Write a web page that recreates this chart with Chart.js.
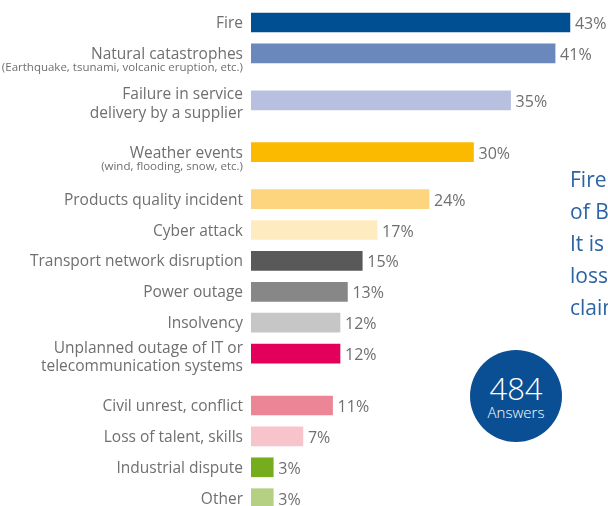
<!DOCTYPE html>
<html>
<head>
<meta charset="utf-8">
<script src="https://cdn.jsdelivr.net/npm/chart.js@4/dist/chart.umd.min.js"></script>
<style>
	html, body { margin: 0; padding: 0; background: #fff; overflow: hidden; }
	#wrap { position: relative; width: 608px; height: 506px; overflow: hidden; font-family: "Open Sans", sans-serif; }
	#riskChart { position: absolute; left: 0; top: 0; }
	.note { position: absolute; left: 570px; top: 163px; color: #2c63a5; font-size: 21px; line-height: 32px; white-space: nowrap; }
	.badge { position: absolute; left: 470px; top: 350px; width: 92px; height: 92px; border-radius: 50%; background: #0a4f93; color: #fff; text-align: center; }
	.badge .num { display: block; font-size: 31px; font-weight: 300; line-height: 30px; margin-top: 23px; }
	.badge .lbl { display: block; font-size: 15px; font-weight: 300; line-height: 18px; }
</style>
</head>
<body>
<div id="wrap">
	<canvas id="riskChart" width="608" height="506"></canvas>
	<div class="note">Fire is the main cause<br>of BI losses.<br>It is behind<br>losses and<br>claims.</div>
	<div class="badge"><span class="num">484</span><span class="lbl">Answers</span></div>
</div>
<script>
const categories = [
	['Fire'],
	['Natural catastrophes'],
	['Failure in service', 'delivery by a supplier'],
	['Weather events'],
	['Products quality incident'],
	['Cyber attack'],
	['Transport network disruption'],
	['Power outage'],
	['Insolvency'],
	['Unplanned outage of IT or', 'telecommunication systems'],
	['Civil unrest, conflict'],
	['Loss of talent, skills'],
	['Industrial dispute'],
	['Other']
];
const subLabels = ['', '(Earthquake, tsunami, volcanic eruption, etc.)', '', '(wind, flooding, snow, etc.)', '', '', '', '', '', '', '', '', '', ''];
const shares = [43, 41, 35, 30, 24, 17, 15, 13, 12, 12, 11, 7, 3, 3];
const barColors = ['#004f93', '#6a88bb', '#b7c1df', '#fbba00', '#fdd57f', '#feebc0', '#595959',
	'#878787', '#c6c6c6', '#e2005a', '#ec8596', '#f6c4ca', '#76ad1c', '#b5cf83'];

document.addEventListener('DOMContentLoaded', () => {
	// rows get extra room when the label wraps or carries a note underneath
	const ROW_GAP = 30.9, SUB_EXTRA = 16, LINE_EXTRA = 21;
	let acc = 0;
	const rows = categories.map((lines, i) => {
		const at = acc;
		acc += ROW_GAP + (subLabels[i] ? SUB_EXTRA : 0) + (lines.length > 1 ? LINE_EXTRA : 0);
		return at;
	});

	const textColor = '#6f6f6f';
	const labelsPlugin = {
		id: 'rowLabels',
		afterDatasetsDraw(chart) {
			const {ctx, scales: {y}} = chart;
			const meta = chart.getDatasetMeta(0);
			ctx.save();
			ctx.fillStyle = textColor;
			ctx.textBaseline = 'alphabetic';
			rows.forEach((r, i) => {
				const cy = y.getPixelForValue(r);
				const lines = categories[i];
				ctx.textAlign = 'right';
				ctx.font = '15.5px "Open Sans"';
				if (lines.length > 1) {
					ctx.fillText(lines[0], 243, cy - 1);
					ctx.fillText(lines[1], 243, cy + 17.5);
				} else if (subLabels[i]) {
					ctx.fillText(lines[0], 243, cy + 6);
					ctx.font = '11.5px "Open Sans"';
					ctx.fillText(subLabels[i], 243, cy + 17.5);
				} else {
					ctx.fillText(lines[0], 243, cy + 5.5);
				}
				// value at the end of each bar
				const bar = meta.data[i];
				ctx.textAlign = 'left';
				ctx.font = '16px "Open Sans"';
				ctx.fillText(shares[i] + '%', bar.x + 5, bar.y + 6.5);
			});
			ctx.restore();
		}
	};

	new Chart(document.getElementById('riskChart'), {
		type: 'bar',
		data: {
			datasets: [{
				data: shares.map((v, i) => ({x: v, y: rows[i]})),
				backgroundColor: barColors,
				borderWidth: 0,
				barThickness: 19
			}]
		},
		options: {
			indexAxis: 'y',
			responsive: false,
			animation: false,
			layout: {padding: {left: 251, right: 1, top: 0, bottom: 0}},
			plugins: {legend: {display: false}, tooltip: {enabled: false}},
			scales: {
				x: {type: 'linear', min: 0, max: 48, display: false},
				y: {type: 'linear', reverse: true, offset: false, min: -22.5, max: 483.5, display: false}
			}
		},
		plugins: [labelsPlugin]
	});
});
</script>
</body>
</html>
